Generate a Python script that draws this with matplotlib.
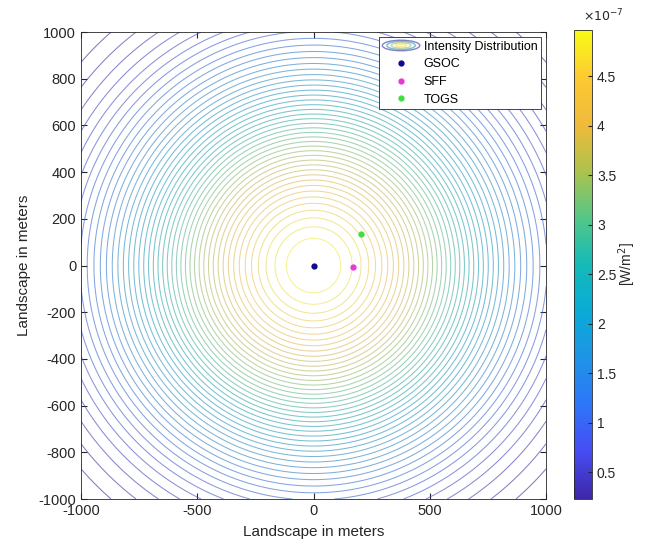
import numpy as np
import matplotlib
matplotlib.use('Agg')
import matplotlib.pyplot as plt
from matplotlib.colors import LinearSegmentedColormap
from matplotlib.patches import Ellipse
from matplotlib.legend_handler import HandlerBase
from matplotlib.lines import Line2D

peak_intensity = 4.97e-7
spread_sigma = 570.0
n_levels = 45
extent = 1000

# receiver sites
site_names = ['GSOC', 'SFF', 'TOGS']
site_x = [0, 170, 203]
site_y = [0, -5, 135]
site_colors = ['#0b0b8c', '#e23ad6', '#3ee03e']

x_ticks = [-1000, -500, 0, 500, 1000]
y_ticks = list(range(-1000, 1001, 200))
cbar_ticks = [0.5, 1, 1.5, 2, 2.5, 3, 3.5, 4, 4.5]

# approximation of MATLAB parula
parula_pts = [
    (0.00, (0.243, 0.150, 0.660)),
    (0.10, (0.275, 0.300, 0.950)),
    (0.20, (0.180, 0.460, 0.980)),
    (0.30, (0.120, 0.580, 0.900)),
    (0.40, (0.040, 0.670, 0.840)),
    (0.50, (0.080, 0.730, 0.720)),
    (0.60, (0.330, 0.780, 0.530)),
    (0.70, (0.680, 0.760, 0.300)),
    (0.80, (0.940, 0.730, 0.230)),
    (0.90, (0.990, 0.790, 0.200)),
    (1.00, (0.977, 0.984, 0.080)),
]
parula = LinearSegmentedColormap.from_list('parula', parula_pts)

plt.rcParams['font.family'] = ['Arial', 'Liberation Sans', 'DejaVu Sans']
plt.rcParams['axes.unicode_minus'] = False
txt = '#262626'


def line_color(v):
    # thin MATLAB contour lines look muted once rendered
    r, g, b, _ = parula(v)
    lum = 0.3 * r + 0.59 * g + 0.11 * b
    c = 0.7 * np.array([r, g, b]) + 0.3 * lum
    return tuple(c) + (0.65,)


class ContourHandler(HandlerBase):
    def create_artists(self, legend, orig, xd, yd, w, h, fontsize, trans):
        cx = 0.5 * w - 0.5 * xd
        cy = 0.5 * h - 0.5 * yd
        arts = []
        for i, v in enumerate([0.05, 0.4, 0.7, 0.95]):
            f = 1 - i * 0.24
            e = Ellipse((cx, cy), w * f, h * 1.2 * f, fill=False,
                        edgecolor=line_color(v), lw=1.0, transform=trans)
            arts.append(e)
        return arts


def main():
    g = np.linspace(-extent, extent, 501)
    X, Y = np.meshgrid(g, g)
    Z = peak_intensity * np.exp(-(X ** 2 + Y ** 2) / (2 * spread_sigma ** 2))
    zmin, zmax = Z.min(), Z.max()
    levels = np.linspace(zmin, zmax, n_levels + 2)[1:-1]
    cols = [line_color((lv - zmin) / (zmax - zmin)) for lv in levels]

    fig = plt.figure(figsize=(6.45, 5.48), dpi=100)
    ax = fig.add_axes([0.1256, 0.0894, 0.721, 0.852])
    cax = fig.add_axes([0.890, 0.0894, 0.028, 0.856])

    ax.contour(X, Y, Z, levels=levels, colors=cols, linewidths=0.75)
    handles = []
    for name, x, y, c in zip(site_names, site_x, site_y, site_colors):
        ax.plot(x, y, 'o', color=c, markersize=3.5, zorder=5)
        handles.append(Line2D([], [], ls='none', marker='o', color=c,
                              markersize=3.5, label=name))

    ax.set_xlim(-extent, extent)
    ax.set_ylim(-extent, extent)
    ax.set_xticks(x_ticks)
    ax.set_yticks(y_ticks)
    ax.tick_params(direction='in', labelsize=10.5, colors=txt, length=4,
                   top=True, right=True)
    for s in ax.spines.values():
        s.set_color(txt)
        s.set_linewidth(0.6)
    ax.set_xlabel('Landscape in meters', fontsize=11, color=txt, labelpad=5)
    ax.set_ylabel('Landscape in meters', fontsize=11, color=txt, labelpad=5)

    proxy = Ellipse((0, 0), 1, 1)
    leg = ax.legend([proxy] + handles, ['Intensity Distribution'] + site_names,
                    handler_map={proxy: ContourHandler()}, loc='upper right',
                    fontsize=9, fancybox=False, framealpha=1, edgecolor=txt,
                    handlelength=3.0, borderaxespad=0.4, labelspacing=0.45,
                    borderpad=0.3, handletextpad=0.3)
    leg.get_frame().set_linewidth(0.6)

    sm = plt.cm.ScalarMappable(cmap=parula,
                               norm=plt.Normalize(zmin * 1e7, zmax * 1e7))
    cb = fig.colorbar(sm, cax=cax)
    cb.set_ticks(cbar_ticks)
    cb.set_ticklabels(['%g' % t for t in cbar_ticks])
    cb.ax.tick_params(direction='in', labelsize=10, colors=txt, length=3)
    cb.outline.set_edgecolor(txt)
    cb.outline.set_linewidth(0.6)
    cax.text(2.95, 0.5, '[W/m$^2$]', transform=cax.transAxes, rotation=90,
             fontsize=10, color=txt, ha='center', va='center')
    cax.text(0.5, 1.012, r'$\times10^{-7}$', transform=cax.transAxes,
             fontsize=9, color=txt, ha='left', va='bottom')

    fig.savefig('out.png', dpi=100)


if __name__ == '__main__':
    main()
